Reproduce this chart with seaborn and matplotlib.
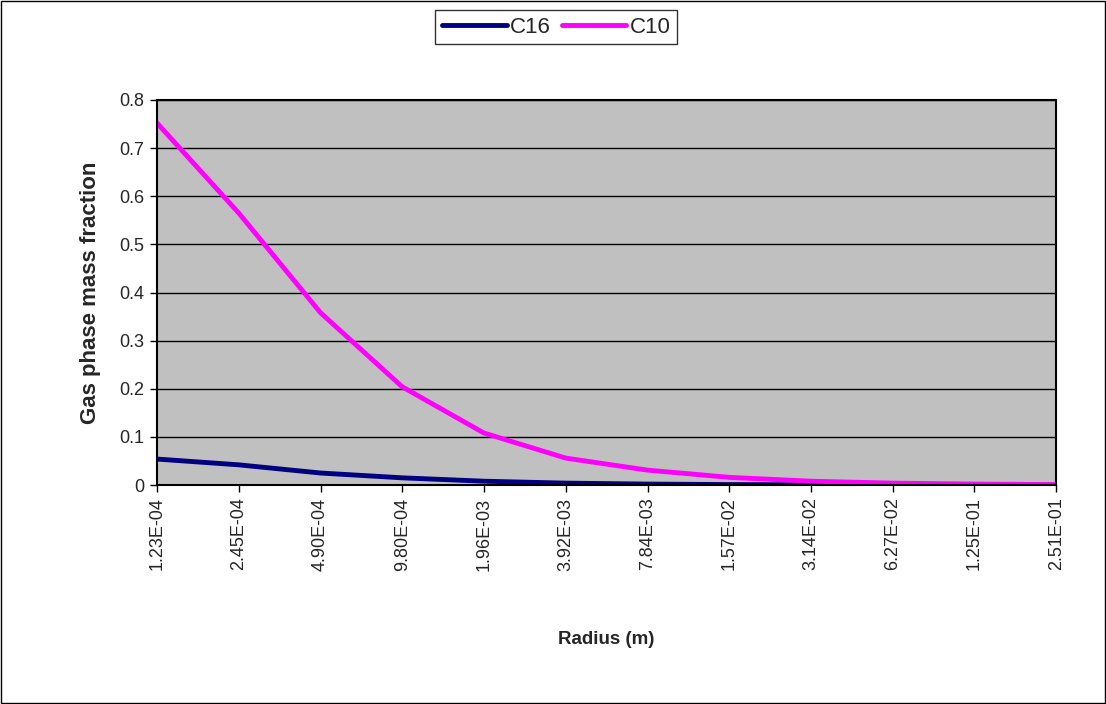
import matplotlib
matplotlib.use("Agg")
import matplotlib.pyplot as plt
import seaborn as sns
import pandas as pd
from matplotlib.patches import Rectangle
from matplotlib.lines import Line2D

radius_labels = ["1.23E-04", "2.45E-04", "4.90E-04", "9.80E-04", "1.96E-03", "3.92E-03",
                 "7.84E-03", "1.57E-02", "3.14E-02", "6.27E-02", "1.25E-01", "2.51E-01"]
c16 = [0.054, 0.042, 0.025, 0.015, 0.008, 0.004, 0.002, 0.001, 0.0006, 0.0003, 0.0002, 0.0001]
c10 = [0.752, 0.565, 0.358, 0.204, 0.108, 0.056, 0.031, 0.016, 0.008, 0.004, 0.002, 0.001]
series_names = ["C16", "C10"]
series_colors = {"C16": "#000080", "C10": "#FF00FF"}

sns.set_theme(style="white")
plt.rcParams['font.family'] = ['Liberation Sans', 'DejaVu Sans']

idx = list(range(len(radius_labels)))
df = pd.DataFrame({
    "pos": idx * 2,
    "value": c16 + c10,
    "series": ["C16"] * len(idx) + ["C10"] * len(idx),
})

fig = plt.figure(figsize=(11.06, 7.04), dpi=100)
ax = fig.add_axes([0.142, 0.311, 0.813, 0.547])
ax.set_facecolor("#C0C0C0")

sns.lineplot(data=df, x="pos", y="value", hue="series", palette=series_colors,
             linewidth=3.5, ax=ax, legend=False)

ax.set_xlim(0, len(idx) - 1)
ax.set_ylim(0, 0.8)
yt = [0, 0.1, 0.2, 0.3, 0.4, 0.5, 0.6, 0.7, 0.8]
ax.set_yticks(yt)
ax.set_yticklabels(["0", "0.1", "0.2", "0.3", "0.4", "0.5", "0.6", "0.7", "0.8"], fontsize=13)
ax.set_xticks(idx)
ax.set_xticklabels(radius_labels, rotation=90, fontsize=13)
ax.yaxis.grid(True, color="black", linewidth=1)
ax.set_axisbelow(True)
ax.tick_params(axis="both", direction="out", length=5, width=1, color="black",
               bottom=True, left=True, pad=4)
for s in ax.spines.values():
    s.set_color("black")
    s.set_linewidth(1.5)
    s.set_visible(True)

ax.set_xlabel("Radius (m)", fontsize=13.5, fontweight="bold")
ax.xaxis.set_label_coords(0.5, -0.38)
ax.set_ylabel("Gas phase mass fraction", fontsize=16, fontweight="bold")
ax.yaxis.set_label_coords(-0.062, 0.5)

handles = [Line2D([0], [0], color=series_colors[n], lw=3.5) for n in series_names]
leg = fig.legend(handles, series_names, loc="upper center", bbox_to_anchor=(0.503, 0.986),
                 ncol=2, frameon=True, fancybox=False, fontsize=16,
                 handlelength=2.9, handletextpad=0.15, columnspacing=0.5, borderpad=0.3,
                 borderaxespad=0)
leg.get_frame().set_edgecolor("black")
leg.get_frame().set_linewidth(1)

fig.add_artist(Rectangle((0.001, 0.001), 0.998, 0.998, transform=fig.transFigure,
                         fill=False, edgecolor="black", linewidth=1))

fig.savefig("out.png", dpi=100)
